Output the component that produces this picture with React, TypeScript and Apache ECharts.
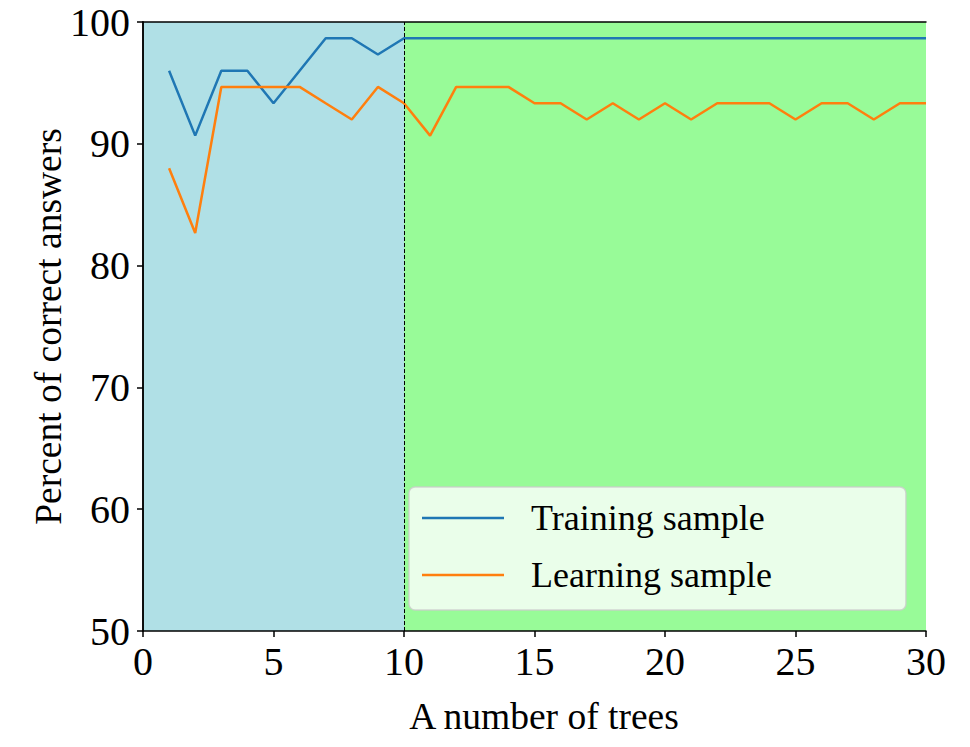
import React, { useEffect, useRef } from "react";
import * as echarts from "echarts";

const trees = Array.from({ length: 30 }, (_, i) => i + 1);
const training = [
  96, 90.67, 96, 96, 93.33, 96, 98.67, 98.67, 97.33, 98.67,
  98.67, 98.67, 98.67, 98.67, 98.67, 98.67, 98.67, 98.67, 98.67, 98.67,
  98.67, 98.67, 98.67, 98.67, 98.67, 98.67, 98.67, 98.67, 98.67, 98.67,
];
const learning = [
  88, 82.67, 94.67, 94.67, 94.67, 94.67, 93.33, 92, 94.67, 93.33,
  90.67, 94.67, 94.67, 94.67, 93.33, 93.33, 92, 93.33, 92, 93.33,
  92, 93.33, 93.33, 93.33, 92, 93.33, 93.33, 92, 93.33, 93.33,
];
const seriesNames = ["Training sample", "Learning sample"];
const regionBounds = [0, 10, 30];
const xTitle = "A number of trees";
const yTitle = "Percent of correct answers";

const FONT = "'Liberation Serif', 'Times New Roman', serif";

export default function App() {
  const ref = useRef<HTMLDivElement>(null);
  useEffect(() => {
    document.body.style.margin = "0";
    const chart = echarts.init(ref.current!, null, { renderer: "svg" });
    const axisCommon = {
      axisLine: { show: true, onZero: false, lineStyle: { color: "#000", width: 1.5 } },
      axisTick: { show: true, inside: false, length: 6, lineStyle: { color: "#000", width: 1.5 } },
      splitLine: { show: false },
      z: 10,
    };
    const tickStyle = { color: "#000", fontSize: 40, fontFamily: FONT };
    const titleStyle = { color: "#000", fontSize: 37.5, fontFamily: FONT };
    chart.setOption({
      animation: false,
      backgroundColor: "#fff",
      grid: { left: 143, right: 44, top: 22, bottom: 116 },
      legend: {
        data: seriesNames,
        orient: "vertical",
        left: 409,
        top: 487,
        icon: "rect",
        itemWidth: 82,
        itemHeight: 2.5,
        itemGap: 17,
        padding: [11, 134, 15, 13],
        backgroundColor: "rgba(255,255,255,0.8)",
        borderColor: "rgba(204,204,204,0.8)",
        borderWidth: 1.5,
        borderRadius: 6,
        textStyle: { color: "#000", fontSize: 36, fontFamily: FONT, lineHeight: 40, padding: [0, 0, 0, 22] },
      },
      xAxis: [
        {
          type: "value",
          min: 0,
          max: 30,
          interval: 5,
          ...axisCommon,
          axisLabel: { ...tickStyle, margin: 10 },
          name: xTitle,
          nameLocation: "middle",
          nameGap: 66,
          nameMoveOverlap: false,
          nameTextStyle: { ...titleStyle, padding: [0, 0, 0, 19] },
        },
        {
          type: "value",
          position: "top",
          min: 0,
          max: 30,
          interval: 5,
          axisLine: { show: true, lineStyle: { color: "#000", width: 1.5 } },
          axisTick: { show: false },
          axisLabel: { show: false },
          splitLine: { show: false },
          z: 10,
        },
      ],
      yAxis: [
        {
          type: "value",
          min: 50,
          max: 100,
          interval: 10,
          ...axisCommon,
          axisLabel: { ...tickStyle, margin: 13 },
          name: yTitle,
          nameLocation: "middle",
          nameGap: 76,
          nameMoveOverlap: false,
          nameTextStyle: { ...titleStyle },
        },
        {
          type: "value",
          position: "right",
          min: 50,
          max: 100,
          interval: 10,
          axisLine: { show: true, lineStyle: { color: "#000", width: 1.5 } },
          axisTick: { show: false },
          axisLabel: { show: false },
          splitLine: { show: false },
          z: 10,
        },
      ],
      series: [
        {
          type: "line",
          data: [],
          z: 1,
          silent: true,
          markArea: {
            silent: true,
            itemStyle: { opacity: 1 },
            data: [
              [{ xAxis: regionBounds[0], itemStyle: { color: "#b0e0e6" } }, { xAxis: regionBounds[1] }],
              [{ xAxis: regionBounds[1], itemStyle: { color: "#98fb98" } }, { xAxis: regionBounds[2] }],
            ],
          },
          markLine: {
            silent: true,
            symbol: "none",
            label: { show: false },
            lineStyle: { color: "#000", type: [4, 2], width: 1 },
            data: [{ xAxis: regionBounds[1] }],
          },
        },
        {
          name: seriesNames[0],
          type: "line",
          z: 3,
          showSymbol: false,
          data: trees.map((t, i) => [t, training[i]]),
          lineStyle: { color: "#1f77b4", width: 2.5 },
          itemStyle: { color: "#1f77b4" },
        },
        {
          name: seriesNames[1],
          type: "line",
          z: 3,
          showSymbol: false,
          data: trees.map((t, i) => [t, learning[i]]),
          lineStyle: { color: "#ff7f0e", width: 2.5 },
          itemStyle: { color: "#ff7f0e" },
        },
      ],
    });
    return () => chart.dispose();
  }, []);
  return <div ref={ref} style={{ width: 970, height: 747 }} />;
}
